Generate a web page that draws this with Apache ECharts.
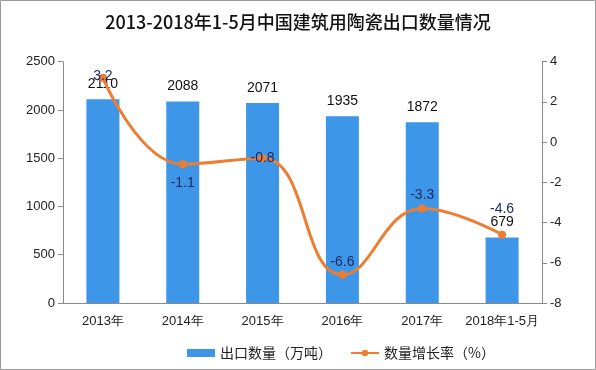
<!DOCTYPE html>
<html>
<head>
<meta charset="utf-8">
<script src="https://cdn.jsdelivr.net/npm/echarts@6/dist/echarts.min.js"></script>
<style>html,body{margin:0;padding:0;background:#fff;}#c{width:596px;height:370px;}</style>
</head>
<body>
<div id="c"></div>
<script>
var categories = ['2013年', '2014年', '2015年', '2016年', '2017年', '2018年1-5月'];
var exportVolume = [2110, 2088, 2071, 1935, 1872, 679];
var growthRate = [3.2, -1.1, -0.8, -6.6, -3.3, -4.6];
var leftTicks = {min: 0, max: 2500, interval: 500};
var rightTicks = {min: -8, max: 4, interval: 2};

var numFont = 'Liberation Sans, DejaVu Sans, sans-serif';
var cjkFont = 'Noto Sans CJK SC, sans-serif';
var labelPos = [
  {position: 'inside', offset: [0, -2]},
  {position: 'bottom', distance: 8},
  {position: 'inside', offset: [0, 0]},
  {position: 'top', distance: 2},
  {position: 'top', distance: 2},
  {position: 'top', distance: 14}
];
var lineData = growthRate.map(function (v, i) {
  return {value: v, label: labelPos[i]};
});

var chart = echarts.init(document.getElementById('c'));
chart.setOption({
  animation: false,
  backgroundColor: '#fff',
  title: {
    text: '2013-2018年1-5月中国建筑用陶瓷出口数量情况',
    left: 'center', top: 8,
    textStyle: {fontFamily: cjkFont, fontSize: 18, fontWeight: 500, color: '#111'}
  },
  graphic: [{
    type: 'rect', shape: {x: 0.5, y: 0.5, width: 595, height: 369},
    style: {fill: 'none', stroke: '#9a9a9a', lineWidth: 1}, silent: true
  }],
  legend: {
    top: 341, left: 182, itemWidth: 28, itemHeight: 8, itemGap: 18,
    textStyle: {fontFamily: cjkFont, fontSize: 14, color: '#222'},
    data: [
      {name: '出口数量（万吨）', icon: 'rect'},
      {name: '数量增长率（%）'}
    ]
  },
  grid: {left: 63, right: 54, top: 61.7, bottom: 67},
  xAxis: {
    type: 'category', data: categories,
    axisLine: {lineStyle: {color: '#8a8a8a'}},
    axisTick: {lineStyle: {color: '#8a8a8a'}, length: 5},
    axisLabel: {fontFamily: numFont, fontSize: 13, color: '#222', margin: 12, interval: 0}
  },
  yAxis: [{
    type: 'value', min: leftTicks.min, max: leftTicks.max, interval: leftTicks.interval,
    splitLine: {show: false},
    axisLine: {show: true, lineStyle: {color: '#8a8a8a'}},
    axisTick: {show: true, lineStyle: {color: '#8a8a8a'}, length: 5},
    axisLabel: {fontFamily: numFont, fontSize: 13, color: '#222', margin: 8,
      formatter: function (v) { return String(v); }}
  }, {
    type: 'value', min: rightTicks.min, max: rightTicks.max, interval: rightTicks.interval,
    splitLine: {show: false},
    axisLine: {show: true, lineStyle: {color: '#8a8a8a'}},
    axisTick: {show: true, lineStyle: {color: '#8a8a8a'}, length: 5},
    axisLabel: {fontFamily: numFont, fontSize: 13, color: '#222', margin: 8,
      formatter: function (v) { return String(v); }}
  }],
  series: [{
    name: '出口数量（万吨）', type: 'bar', data: exportVolume, barWidth: 33,
    itemStyle: {color: '#3d96e8'},
    label: {show: true, position: 'top', distance: 8, fontFamily: numFont, fontSize: 14, color: '#111'}
  }, {
    name: '数量增长率（%）', type: 'line', yAxisIndex: 1, data: lineData,
    smooth: 0.45, symbol: 'circle', symbolSize: 8,
    lineStyle: {color: '#ed7d31', width: 3},
    itemStyle: {color: '#ed7d31'},
    label: {show: true, fontFamily: numFont, fontSize: 14, color: '#1c2a66'},
    z: 5
  }]
});
</script>
</body>
</html>
